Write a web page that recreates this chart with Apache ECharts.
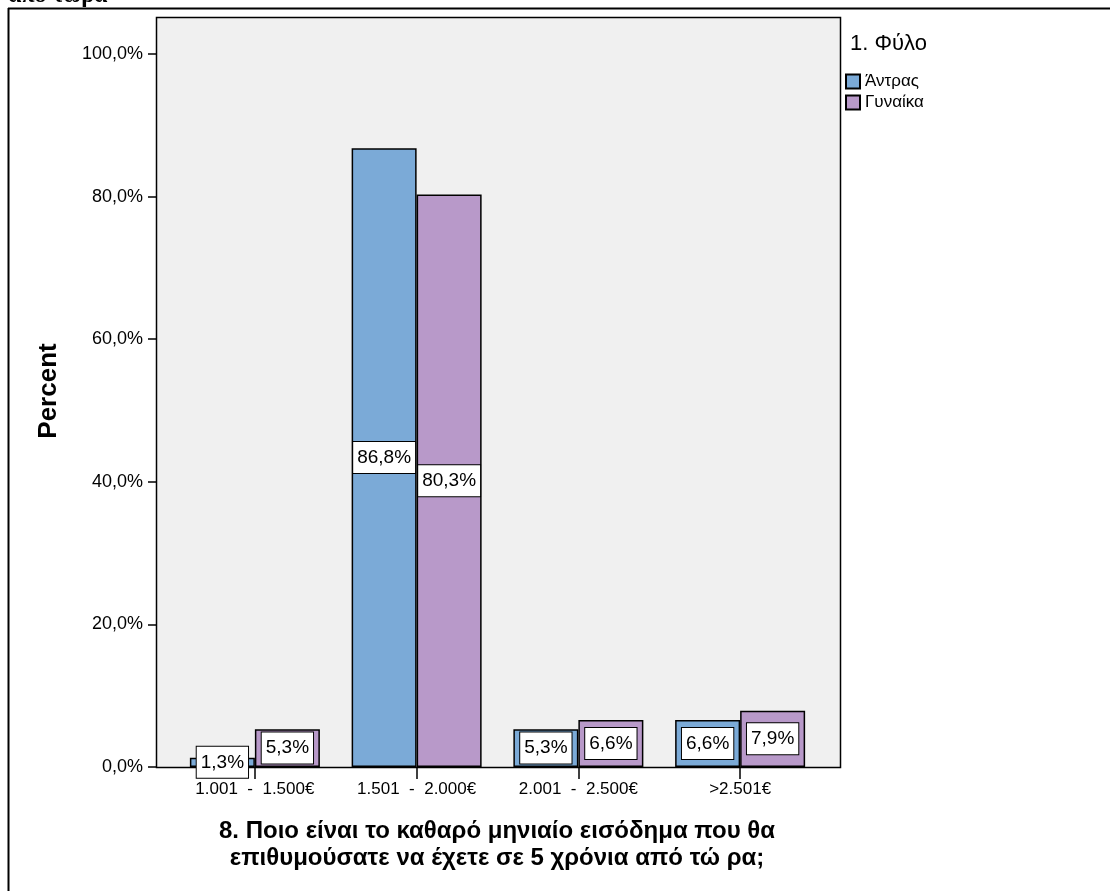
<!DOCTYPE html>
<html>
<head>
<meta charset="utf-8">
<script src="https://cdn.jsdelivr.net/npm/echarts@6/dist/echarts.min.js"></script>
<style>
html,body{margin:0;padding:0;background:#fff;}
#chart{width:1110px;height:891px;}
</style>
</head>
<body>
<div id="chart"></div>
<script>
var categories = ['1.001 - 1.500€', '1.501 - 2.000€', '2.001 - 2.500€', '>2.501€'];
var seriesNames = ['Άντρας', 'Γυναίκα'];
var menValues = [1.3, 86.8, 5.3, 6.6];
var womenValues = [5.3, 80.3, 6.6, 7.9];
var yTicks = [0, 20, 40, 60, 80, 100];
var legendTitle = '1. Φύλο';
var yTitle = 'Percent';
var xTitleLines = ['8. Ποιο είναι το καθαρό μηνιαίο εισόδημα που θα', 'επιθυμούσατε να έχετε σε 5 χρόνια από τώ ρα;'];
var topCutText = 'από τώρα';

var FONT = '"Liberation Sans", Arial, sans-serif';
function pct(v) { return v.toFixed(1).replace('.', ',') + '%'; }

var chart = echarts.init(document.getElementById('chart'), null, {renderer: 'canvas'});

var labelCfg = {
  show: true,
  position: 'inside',
  formatter: function (p) { return pct(p.value); },
  color: '#000',
  fontFamily: FONT,
  fontSize: 19,
  backgroundColor: '#fff',
  borderColor: '#000',
  borderWidth: 1,
  padding: [7, 4, 5, 4]
};

chart.setOption({
  animation: false,
  backgroundColor: '#fff',
  grid: {left: 174, top: 17, width: 647, height: 750, containLabel: false},
  graphic: [
    {type: 'rect', z: -10, shape: {x: 156.5, y: 17.5, width: 684, height: 750}, style: {fill: '#F0F0F0', stroke: '#000', lineWidth: 1.5}},
    {type: 'line', z: 5, shape: {x1: 8, y1: 8.5, x2: 1110, y2: 8.5}, style: {stroke: '#000', lineWidth: 2}},
    {type: 'line', z: 5, shape: {x1: 8.5, y1: 8, x2: 8.5, y2: 891}, style: {stroke: '#000', lineWidth: 2}},
    {type: 'text', x: 8, y: 8, style: {text: topCutText, font: 'bold 24px "Liberation Serif", "Times New Roman", serif', fill: '#000', textAlign: 'left', textVerticalAlign: 'bottom'}},
    {type: 'text', x: 49, y: 391, rotation: Math.PI / 2, style: {text: yTitle, font: 'bold 26px ' + FONT, fill: '#000', textAlign: 'center', textVerticalAlign: 'middle'}},
    {type: 'text', x: 497, y: 831, style: {text: xTitleLines[0], font: 'bold 24px ' + FONT, fill: '#000', textAlign: 'center', textVerticalAlign: 'middle'}},
    {type: 'text', x: 497, y: 858, style: {text: xTitleLines[1], font: 'bold 24px ' + FONT, fill: '#000', textAlign: 'center', textVerticalAlign: 'middle'}},
    {type: 'text', x: 850, y: 44, style: {text: legendTitle, font: '22px ' + FONT, fill: '#000', textAlign: 'left', textVerticalAlign: 'middle'}}
  ],
  legend: {
    orient: 'vertical',
    left: 840,
    top: 68,
    itemWidth: 14,
    itemHeight: 14,
    itemGap: 4,
    icon: 'rect',
    data: seriesNames,
    textStyle: {fontFamily: FONT, fontSize: 17, color: '#000'}
  },
  xAxis: {
    type: 'category',
    data: categories,
    axisLine: {show: false},
    axisTick: {show: true, alignWithLabel: true, length: 12, inside: false, lineStyle: {color: '#000', width: 1.5}},
    axisLabel: {fontFamily: FONT, fontSize: 17, color: '#000', margin: 14, interval: 0,
      formatter: function (v) { return v.replace(' - ', '  -  '); }},
    splitLine: {show: false}
  },
  yAxis: {
    type: 'value',
    min: 0,
    max: 105.2,
    interval: 20,
    offset: 18,
    axisLine: {show: false},
    axisTick: {show: true, length: 8, lineStyle: {color: '#000', width: 1.5}},
    axisLabel: {fontFamily: FONT, fontSize: 18, color: '#000', margin: 13, formatter: function (v) { return yTicks.indexOf(v) >= 0 ? pct(v) : ''; }, showMaxLabel: false},
    splitLine: {show: false}
  },
  series: [
    {
      name: seriesNames[0], type: 'bar', data: menValues, barWidth: 65, barGap: '0%',
      itemStyle: {color: '#7BAAD7', borderColor: '#000', borderWidth: 1.5},
      label: labelCfg
    },
    {
      name: seriesNames[1], type: 'bar', data: womenValues, barWidth: 65, barGap: '0%',
      itemStyle: {color: '#B899C9', borderColor: '#000', borderWidth: 1.5},
      label: labelCfg
    }
  ]
});
</script>
</body>
</html>
